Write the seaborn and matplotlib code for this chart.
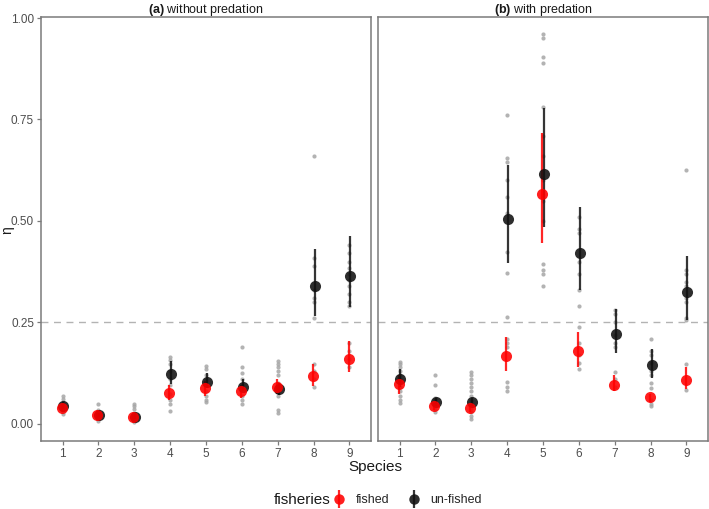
import seaborn as sns
import matplotlib.pyplot as plt
from matplotlib.lines import Line2D
import numpy as np
import pandas as pd

species = [1, 2, 3, 4, 5, 6, 7, 8, 9]

# grey dots: single runs, panel (a) without predation
runs_a = [
    [0.07, 0.062, 0.055, 0.048, 0.042, 0.036, 0.03, 0.025],
    [0.048, 0.035, 0.028, 0.022, 0.018, 0.012, 0.007],
    [0.05, 0.044, 0.036, 0.028, 0.02, 0.012, 0.005],
    [0.166, 0.158, 0.148, 0.13, 0.11, 0.095, 0.075, 0.06, 0.05, 0.033],
    [0.143, 0.135, 0.12, 0.108, 0.095, 0.08, 0.07, 0.06, 0.055],
    [0.19, 0.14, 0.125, 0.11, 0.095, 0.085, 0.07, 0.06, 0.048],
    [0.155, 0.148, 0.14, 0.13, 0.12, 0.1, 0.085, 0.07, 0.035, 0.028],
    [0.66, 0.41, 0.39, 0.33, 0.31, 0.30, 0.26, 0.148, 0.13, 0.11, 0.09],
    [0.44, 0.42, 0.40, 0.385, 0.37, 0.355, 0.34, 0.32, 0.30, 0.29, 0.2, 0.18, 0.16, 0.14],
]
# panel (b) with predation
runs_b = [
    [0.153, 0.148, 0.14, 0.13, 0.12, 0.11, 0.1, 0.09, 0.08, 0.07, 0.06, 0.051],
    [0.12, 0.095, 0.065, 0.058, 0.05, 0.043, 0.036, 0.03],
    [0.129, 0.12, 0.11, 0.1, 0.09, 0.08, 0.07, 0.06, 0.05, 0.04, 0.03, 0.02, 0.012],
    [0.761, 0.654, 0.645, 0.6, 0.56, 0.52, 0.424, 0.371, 0.264, 0.21, 0.2, 0.19, 0.104, 0.09, 0.08],
    [0.96, 0.95, 0.905, 0.89, 0.78, 0.71, 0.66, 0.6, 0.55, 0.5, 0.393, 0.38, 0.37, 0.34],
    [0.51, 0.48, 0.47, 0.4, 0.37, 0.33, 0.29, 0.24, 0.2, 0.17, 0.15, 0.135],
    [0.28, 0.27, 0.25, 0.22, 0.2, 0.19, 0.127, 0.11, 0.09],
    [0.209, 0.18, 0.17, 0.15, 0.13, 0.12, 0.1, 0.088, 0.06, 0.05, 0.043],
    [0.625, 0.38, 0.37, 0.35, 0.34, 0.31, 0.30, 0.26, 0.255, 0.148, 0.084],
]

# means and intervals
fished_a = [0.039, 0.021, 0.016, 0.076, 0.088, 0.081, 0.092, 0.117, 0.161]
fished_a_lo = [0.03, 0.015, 0.01, 0.06, 0.07, 0.065, 0.075, 0.093, 0.127]
fished_a_hi = [0.048, 0.027, 0.022, 0.096, 0.105, 0.095, 0.11, 0.148, 0.204]
unfished_a = [0.045, 0.022, 0.018, 0.123, 0.103, 0.092, 0.086, 0.34, 0.364]
unfished_a_lo = [0.038, 0.016, 0.012, 0.098, 0.088, 0.08, 0.072, 0.266, 0.287]
unfished_a_hi = [0.055, 0.028, 0.025, 0.155, 0.125, 0.11, 0.10, 0.43, 0.463]

fished_b = [0.098, 0.043, 0.039, 0.167, 0.566, 0.18, 0.096, 0.066, 0.108]
fished_b_lo = [0.075, 0.035, 0.03, 0.131, 0.445, 0.141, 0.08, 0.054, 0.087]
fished_b_hi = [0.12, 0.052, 0.05, 0.215, 0.717, 0.227, 0.12, 0.075, 0.14]
unfished_b = [0.110, 0.053, 0.053, 0.504, 0.615, 0.42, 0.222, 0.145, 0.325]
unfished_b_lo = [0.09, 0.045, 0.045, 0.397, 0.486, 0.33, 0.176, 0.112, 0.256]
unfished_b_hi = [0.135, 0.065, 0.063, 0.638, 0.779, 0.535, 0.282, 0.184, 0.414]

titles = [r'$\mathbf{(a)}$ without predation', r'$\mathbf{(b)}$ with predation']

sns.set_theme(style='white')
plt.rcParams['font.family'] = ['Liberation Sans', 'DejaVu Sans']
plt.rcParams['mathtext.fontset'] = 'custom'
plt.rcParams['mathtext.rm'] = 'Liberation Sans'
plt.rcParams['mathtext.bf'] = 'Liberation Sans:bold'

colors = {'fished': '#ff0000', 'un-fished': '#111111'}
offs = {'fished': -0.025, 'un-fished': 0.025}

fig = plt.figure(figsize=(7.09, 5.09), dpi=100)
ax1 = fig.add_axes([41 / 709, 1 - 441 / 509, 330 / 709, 424 / 509])
ax2 = fig.add_axes([378 / 709, 1 - 441 / 509, 330 / 709, 424 / 509])

panels = [
    (ax1, runs_a, fished_a, fished_a_lo, fished_a_hi, unfished_a, unfished_a_lo, unfished_a_hi),
    (ax2, runs_b, fished_b, fished_b_lo, fished_b_hi, unfished_b, unfished_b_lo, unfished_b_hi),
]

for i, (ax, runs, f, flo, fhi, u, ulo, uhi) in enumerate(panels):
    ax.axhline(0.25, color='#b3b3b3', ls=(0, (5, 4)), lw=1.0, zorder=0)

    rows = [(s, v) for s, vals in zip(species, runs) for v in vals]
    gdf = pd.DataFrame(rows, columns=['species', 'eta'])
    sns.scatterplot(data=gdf, x='species', y='eta', color='#a6a6a6', s=9,
                    linewidth=0, alpha=0.85, ax=ax, zorder=1)

    mdf = pd.concat([
        pd.DataFrame({'species': species, 'fisheries': 'un-fished', 'mean': u, 'lo': ulo, 'hi': uhi}),
        pd.DataFrame({'species': species, 'fisheries': 'fished', 'mean': f, 'lo': flo, 'hi': fhi}),
    ], ignore_index=True)
    mdf['x'] = mdf['species'] + mdf['fisheries'].map(offs)

    for fish in ['un-fished', 'fished']:
        sub = mdf[mdf['fisheries'] == fish]
        ax.vlines(sub['x'], sub['lo'], sub['hi'], color=colors[fish], lw=1.6, alpha=0.85, zorder=2)
        sns.scatterplot(data=sub, x='x', y='mean', color=colors[fish], s=64,
                        linewidth=0, alpha=0.88, ax=ax, legend=False, zorder=3)

    ax.set_xlim(0.4, 9.6)
    ax.set_ylim(-0.042, 1.0025)
    ax.set_xticks(species)
    ax.set_xticklabels([str(s) for s in species])
    ax.set_yticks([0, 0.25, 0.5, 0.75, 1.0])
    ax.set_yticklabels(['0.00', '0.25', '0.50', '0.75', '1.00'])
    ax.set_xlabel('')
    ax.set_ylabel('')
    for sp in ax.spines.values():
        sp.set_visible(True)
        sp.set_color('#7a7a7a')
        sp.set_linewidth(1.1)
    ax.tick_params(axis='both', which='major', length=3, width=0.9, color='#7a7a7a',
                   labelsize=8.5, labelcolor='#4d4d4d', pad=2, bottom=True, left=True)
    ax.set_title(titles[i], fontsize=9, pad=3, color='#1a1a1a')

ax2.tick_params(axis='y', left=False, labelleft=False)

fig.text(375 / 709, 1 - 467 / 509, 'Species', fontsize=11, ha='center', va='center', color='#1a1a1a')
fig.text(7.5 / 709, 1 - 230 / 509, 'η', fontsize=10, ha='center', va='center', rotation=90, color='#1a1a1a')

handles = []
for fish in ['fished', 'un-fished']:
    bar = Line2D([], [], marker='|', ms=13, mew=1.6, color=colors[fish], ls='', alpha=0.85)
    dot = Line2D([], [], marker='o', ms=7.5, color=colors[fish], ls='', mew=0, alpha=0.88)
    handles.append((bar, dot))
fig.legend(handles=handles, labels=['fished', 'un-fished'], loc='center',
           bbox_to_anchor=(407 / 709, 1 - 500 / 509), ncol=2, frameon=False,
           fontsize=9, handlelength=1.2, columnspacing=1.4, handletextpad=0.7)
fig.text(274 / 709, 1 - 500 / 509, 'fisheries', fontsize=11, ha='left', va='center', color='#1a1a1a')

fig.savefig('out.png', dpi=100)
